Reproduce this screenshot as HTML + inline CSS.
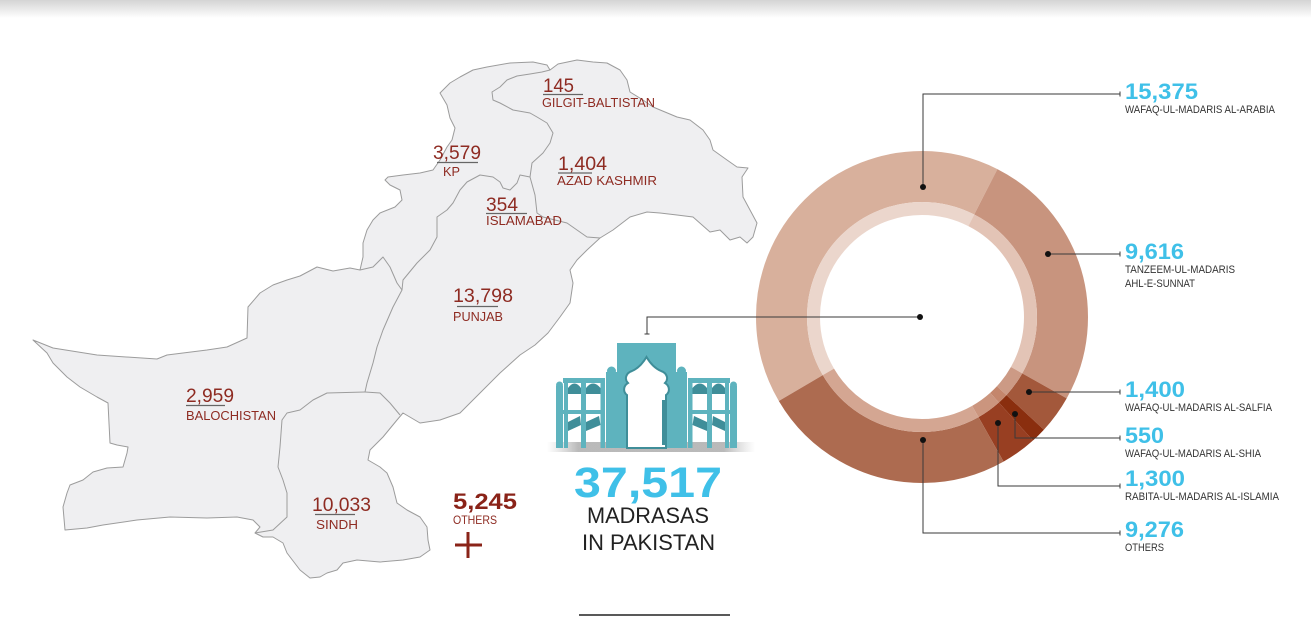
<!DOCTYPE html>
<html>
<head>
<meta charset="utf-8">
<style>
html,body{margin:0;padding:0;background:#fff;}
svg{display:block;}
text{font-family:"Liberation Sans",sans-serif;}
</style>
</head>
<body>
<svg width="1311" height="617" viewBox="0 0 1311 617" xmlns="http://www.w3.org/2000/svg">
<defs>
  <linearGradient id="topg" x1="0" y1="0" x2="0" y2="1">
    <stop offset="0" stop-color="#d4d4d4"/>
    <stop offset="1" stop-color="#ffffff"/>
  </linearGradient>
  <linearGradient id="shad" x1="0" y1="0" x2="1" y2="0">
    <stop offset="0" stop-color="#bdbdbd" stop-opacity="0"/>
    <stop offset="0.15" stop-color="#a8a8a8" stop-opacity="0.8"/>
    <stop offset="0.85" stop-color="#a8a8a8" stop-opacity="0.8"/>
    <stop offset="1" stop-color="#bdbdbd" stop-opacity="0"/>
  </linearGradient>
</defs>

<!-- top gray band -->
<rect x="0" y="0" width="1311" height="18" fill="url(#topg)"/>

<!-- MAP -->
<g fill="#efeff1" stroke="#9c9c9c" stroke-width="1" stroke-linejoin="round">
<path d="M33,340 L53,348 L97,355 L157,359 L167,355 L207,350 L227,347 L247,338 L248,307 L260,293 L273,285 L287,280 L300,276 L317,267 L333,271 L350,268 L360,270 L363,257 L363,243 L367,230 L373,220 L380,213 L395,207 L402,200 L400,190 L390,185 L385,180 L388,177 L403,175 L420,173 L433,170 L440,160 L447,147 L452,140 L455,128 L450,118 L447,105 L440,93 L450,83 L460,77 L473,70 L487,67 L510,63 L533,62 L547,65 L550,70 L558,64 L577,60 L593,62 L607,63 L620,70 L627,80 L630,92 L643,100 L653,107 L677,117 L690,120 L703,130 L710,140 L713,150 L727,160 L737,167 L748,168 L742,177 L743,197 L750,210 L757,223 L753,237 L747,243 L740,237 L730,240 L720,230 L710,232 L693,217 L677,215 L660,213 L647,212 L630,217 L613,230 L600,238 L587,250 L577,260 L570,270 L573,283 L570,303 L560,317 L548,333 L535,345 L520,355 L500,373 L480,393 L460,413 L440,420 L420,423 L403,413 L397,420 L383,437 L370,450 L368,460 L380,467 L387,473 L393,487 L397,503 L407,510 L420,517 L427,527 L428,540 L430,550 L420,557 L403,560 L380,562 L357,560 L343,563 L337,570 L327,573 L320,577 L310,578 L300,570 L287,553 L283,543 L273,537 L263,537 L255,533 L260,527 L253,520 L237,517 L207,518 L170,517 L137,520 L103,525 L87,528 L65,530 L63,507 L67,493 L70,485 L83,480 L93,472 L107,468 L123,467 L127,453 L128,447 L117,445 L110,443 L108,403 L97,397 L80,387 L67,377 L53,363 L47,353 Z"/>
</g>
<g fill="none" stroke="#9c9c9c" stroke-width="1" stroke-linejoin="round">
  <polyline points="360,270 373,267 383,257 390,267 397,283 402,290 393,307 383,330 377,347 373,363 367,383 365,392"/>
  <polyline points="365,392 327,393 313,400 300,410 287,413 282,420 280,447 278,467 283,480 287,493 287,517 273,530 255,533"/>
  <polyline points="365,392 380,393 390,403 400,415"/>
  <polyline points="402,290 403,280 417,263 430,250 437,237 437,217 447,210 453,203 460,190 467,182 480,175 493,177 500,182 503,188 510,190 517,183 520,175 530,177"/>
  <polyline points="530,177 532,163 543,153 550,143 553,133 547,123 537,117 530,113 513,110 500,103 493,100 492,92 500,87 507,80 517,76 530,74 542,72 550,70"/>
  <polyline points="530,177 535,195 537,213 543,217 567,223 577,230 587,237 600,238"/>
</g>

<!-- map labels -->
<g fill="#8e2b22">
  <text x="543" y="92" font-size="19" textLength="31" lengthAdjust="spacingAndGlyphs">145</text>
  <text x="542" y="107" font-size="13" textLength="113" lengthAdjust="spacingAndGlyphs">GILGIT-BALTISTAN</text>
  <text x="433" y="159" font-size="19" textLength="48" lengthAdjust="spacingAndGlyphs">3,579</text>
  <text x="443" y="176" font-size="13" textLength="17" lengthAdjust="spacingAndGlyphs">KP</text>
  <text x="558" y="170" font-size="19" textLength="49" lengthAdjust="spacingAndGlyphs">1,404</text>
  <text x="557" y="185" font-size="13" textLength="100" lengthAdjust="spacingAndGlyphs">AZAD KASHMIR</text>
  <text x="486" y="211" font-size="19" textLength="32" lengthAdjust="spacingAndGlyphs">354</text>
  <text x="486" y="225" font-size="13" textLength="76" lengthAdjust="spacingAndGlyphs">ISLAMABAD</text>
  <text x="453" y="302" font-size="19" textLength="60" lengthAdjust="spacingAndGlyphs">13,798</text>
  <text x="453" y="321" font-size="13" textLength="50" lengthAdjust="spacingAndGlyphs">PUNJAB</text>
  <text x="186" y="402" font-size="19" textLength="48" lengthAdjust="spacingAndGlyphs">2,959</text>
  <text x="186" y="420" font-size="13" textLength="90" lengthAdjust="spacingAndGlyphs">BALOCHISTAN</text>
  <text x="312" y="511" font-size="19" textLength="59" lengthAdjust="spacingAndGlyphs">10,033</text>
  <text x="316" y="529" font-size="13" textLength="42" lengthAdjust="spacingAndGlyphs">SINDH</text>
  <text x="453" y="509" font-size="22" font-weight="bold" fill="#8a2318" textLength="64" lengthAdjust="spacingAndGlyphs">5,245</text>
  <text x="453" y="524" font-size="12" textLength="44" lengthAdjust="spacingAndGlyphs">OTHERS</text>
</g>
<g stroke="#666" stroke-width="1.3">
  <line x1="543" y1="94.5" x2="583" y2="94.5"/>
  <line x1="437" y1="162.5" x2="478" y2="162.5"/>
  <line x1="558" y1="173" x2="592" y2="173"/>
  <line x1="486" y1="213.5" x2="527" y2="213.5"/>
  <line x1="457" y1="306.5" x2="498" y2="306.5"/>
  <line x1="186" y1="405.5" x2="225" y2="405.5"/>
  <line x1="315" y1="514.5" x2="355" y2="514.5"/>
</g>
<g stroke="#8a2318" stroke-width="3">
  <line x1="455" y1="545" x2="482" y2="545"/>
  <line x1="468" y1="532" x2="468" y2="558"/>
</g>

<!-- BUILDING -->
<rect x="547" y="442" width="208" height="10" fill="url(#shad)"/>
<g id="lw">
  <g fill="#5eb3be">
    <rect x="556" y="386" width="7" height="62"/>
    <circle cx="559.5" cy="385" r="3.5"/>
    <rect x="563" y="378" width="42" height="5"/>
    <rect x="564" y="378" width="4" height="70"/>
    <rect x="581" y="378" width="5" height="70"/>
    <rect x="600.5" y="378" width="4.5" height="70"/>
    <rect x="563" y="410" width="42" height="4"/>
  </g>
  <g fill="#3f8e99">
    <path d="M568,394 L568,388 Q574.5,379 581,388 L581,394 Z"/>
    <path d="M586,394 L586,388 Q593,379 600.5,388 L600.5,394 Z"/>
    <path d="M568,431 L568,422 L580,416 L581,425 Z"/>
    <path d="M586,431 L586,422 L599,416 L600.5,425 Z"/>
  </g>
</g>
<g transform="translate(1293,0) scale(-1,1)">
  <use href="#lw"/>
</g>
<g fill="#5eb3be">
  <rect x="606" y="372" width="11" height="76"/>
  <circle cx="611.5" cy="371" r="4.5"/>
  <rect x="676" y="372" width="11" height="76"/>
  <circle cx="681.5" cy="371" r="4.5"/>
  <rect x="617" y="343" width="59" height="105"/>
</g>
<path d="M627,448 V395 C623,392 623,386 628,383 C624,379 626,373 632,371 C639,368 643,363 646.5,357 C650,363 654,368 661,371 C667,373 669,379 665,383 C670,386 670,392 666,395 V448 Z" fill="#fff" stroke="#3f8e99" stroke-width="2"/>
<rect x="662" y="400" width="4.5" height="45" fill="#3f8e99"/>

<!-- center texts -->
<text x="574" y="497" font-size="43" font-weight="bold" fill="#3fc0e8" textLength="148" lengthAdjust="spacingAndGlyphs">37,517</text>
<text x="587" y="523" font-size="22" fill="#222" textLength="122" lengthAdjust="spacingAndGlyphs">MADRASAS</text>
<text x="582" y="550" font-size="22" fill="#222" textLength="133" lengthAdjust="spacingAndGlyphs">IN PAKISTAN</text>

<!-- DONUT -->
<g transform="rotate(-90 922 317)" fill="none">
  <circle cx="922" cy="317" r="140.5" stroke="#d8b09c" stroke-width="51" stroke-dasharray="361.70 521.09" stroke-dashoffset="-587.30"/>
  <circle cx="922" cy="317" r="140.5" stroke="#c8947e" stroke-width="51" stroke-dasharray="226.34 656.45" stroke-dashoffset="-66.21"/>
  <circle cx="922" cy="317" r="140.5" stroke="#a3583b" stroke-width="51" stroke-dasharray="32.86 849.93" stroke-dashoffset="-292.55"/>
  <circle cx="922" cy="317" r="140.5" stroke="#8a2e0e" stroke-width="51" stroke-dasharray="13.00 869.79" stroke-dashoffset="-325.41"/>
  <circle cx="922" cy="317" r="140.5" stroke="#983f22" stroke-width="51" stroke-dasharray="30.65 852.14" stroke-dashoffset="-338.40"/>
  <circle cx="922" cy="317" r="140.5" stroke="#ad6b50" stroke-width="51" stroke-dasharray="218.25 664.54" stroke-dashoffset="-369.06"/>
  <circle cx="922" cy="317" r="108.5" stroke="#ebd6cc" stroke-width="13" stroke-dasharray="279.32 402.41" stroke-dashoffset="-453.54"/>
  <circle cx="922" cy="317" r="108.5" stroke="#e3c4b6" stroke-width="13" stroke-dasharray="174.79 506.94" stroke-dashoffset="-51.13"/>
  <circle cx="922" cy="317" r="108.5" stroke="#cc9a85" stroke-width="13" stroke-dasharray="25.38 656.35" stroke-dashoffset="-225.92"/>
  <circle cx="922" cy="317" r="108.5" stroke="#c4866c" stroke-width="13" stroke-dasharray="10.04 671.69" stroke-dashoffset="-251.29"/>
  <circle cx="922" cy="317" r="108.5" stroke="#cb957e" stroke-width="13" stroke-dasharray="23.67 658.06" stroke-dashoffset="-261.33"/>
  <circle cx="922" cy="317" r="108.5" stroke="#d4a692" stroke-width="13" stroke-dasharray="168.54 513.19" stroke-dashoffset="-285.00"/>
</g>

<!-- leader lines -->
<g fill="none" stroke="#3a3a3a" stroke-width="1">
  <polyline points="920,317 647,317 647,334"/>
  <line x1="644.5" y1="334" x2="649.5" y2="334"/>
  <polyline points="923,187 923,94 1120,94"/>
  <polyline points="1048,254 1120,254"/>
  <polyline points="1029,392 1120,392"/>
  <polyline points="1015,414 1015,438 1120,438"/>
  <polyline points="998,423 998,486 1120,486"/>
  <polyline points="923,440 923,533 1120,533"/>
  <line x1="1120" y1="91.5" x2="1120" y2="96.5"/>
  <line x1="1120" y1="251.5" x2="1120" y2="256.5"/>
  <line x1="1120" y1="389.5" x2="1120" y2="394.5"/>
  <line x1="1120" y1="435.5" x2="1120" y2="440.5"/>
  <line x1="1120" y1="483.5" x2="1120" y2="488.5"/>
  <line x1="1120" y1="530.5" x2="1120" y2="535.5"/>
</g>
<g fill="#111">
  <circle cx="920" cy="317" r="3"/>
  <circle cx="923" cy="187" r="3"/>
  <circle cx="1048" cy="254" r="3"/>
  <circle cx="1029" cy="392" r="3"/>
  <circle cx="1015" cy="414" r="3"/>
  <circle cx="998" cy="423" r="3"/>
  <circle cx="923" cy="440" r="3"/>
</g>

<!-- right labels -->
<g fill="#3fc0e8" font-weight="bold" font-size="22">
  <text x="1125" y="99" textLength="73" lengthAdjust="spacingAndGlyphs">15,375</text>
  <text x="1125" y="259" textLength="59" lengthAdjust="spacingAndGlyphs">9,616</text>
  <text x="1125" y="397" textLength="60" lengthAdjust="spacingAndGlyphs">1,400</text>
  <text x="1125" y="443" textLength="39" lengthAdjust="spacingAndGlyphs">550</text>
  <text x="1125" y="486" textLength="60" lengthAdjust="spacingAndGlyphs">1,300</text>
  <text x="1125" y="537" textLength="59" lengthAdjust="spacingAndGlyphs">9,276</text>
</g>
<g fill="#333" font-size="11">
  <text x="1125" y="113" textLength="150" lengthAdjust="spacingAndGlyphs">WAFAQ-UL-MADARIS AL-ARABIA</text>
  <text x="1125" y="273" textLength="110" lengthAdjust="spacingAndGlyphs">TANZEEM-UL-MADARIS</text>
  <text x="1125" y="287" textLength="70" lengthAdjust="spacingAndGlyphs">AHL-E-SUNNAT</text>
  <text x="1125" y="411" textLength="147" lengthAdjust="spacingAndGlyphs">WAFAQ-UL-MADARIS AL-SALFIA</text>
  <text x="1125" y="457" textLength="136" lengthAdjust="spacingAndGlyphs">WAFAQ-UL-MADARIS AL-SHIA</text>
  <text x="1125" y="500" textLength="154" lengthAdjust="spacingAndGlyphs">RABITA-UL-MADARIS AL-ISLAMIA</text>
  <text x="1125" y="551" textLength="39" lengthAdjust="spacingAndGlyphs">OTHERS</text>
</g>

<!-- bottom line -->
<line x1="579" y1="615" x2="730" y2="615" stroke="#222" stroke-width="1.5"/>
</svg>
</body>
</html>
